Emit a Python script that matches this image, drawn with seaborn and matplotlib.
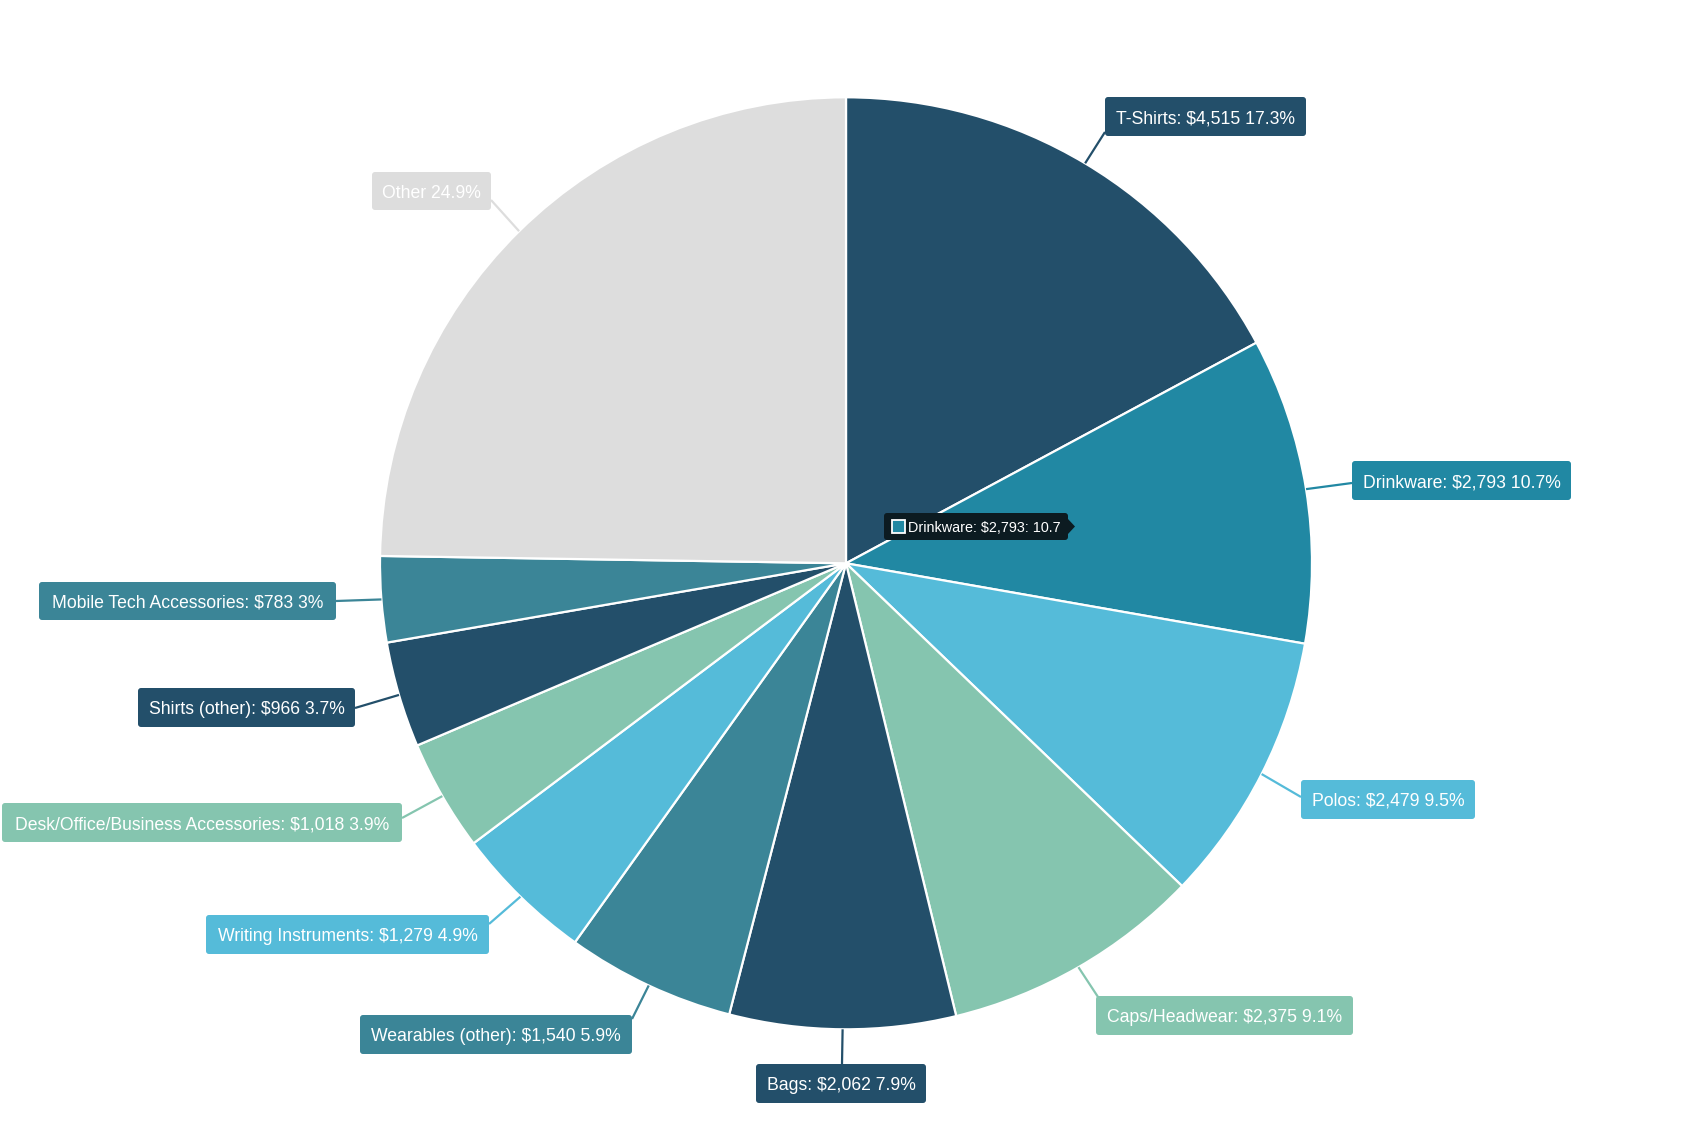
import matplotlib
matplotlib.use("Agg")
import matplotlib.pyplot as plt
from matplotlib.patches import FancyBboxPatch, Polygon
import numpy as np
import seaborn as sns

# Sales by product category
categories = ["T-Shirts", "Drinkware", "Polos", "Caps/Headwear", "Bags",
              "Wearables (other)", "Writing Instruments",
              "Desk/Office/Business Accessories", "Shirts (other)",
              "Mobile Tech Accessories", "Other"]
sales = [4515, 2793, 2479, 2375, 2062, 1540, 1279, 1018, 966, 783, 6515]
pct_labels = [17.3, 10.7, 9.5, 9.1, 7.9, 5.9, 4.9, 3.9, 3.7, 3, 24.9]
show_amount = [True] * 10 + [False]

NAVY, TEAL, SKY, MINT, SLATE, GREY = "#234f6a", "#2188a3", "#55bbd9", "#85c5af", "#3b8597", "#dddddd"
colors = [NAVY, TEAL, SKY, MINT, NAVY, SLATE, SKY, MINT, NAVY, SLATE, GREY]

sns.set_theme(style="white")
plt.rcParams["font.family"] = ["Liberation Sans", "DejaVu Sans"]

W, H = 1692, 1128
fig = plt.figure(figsize=(W / 100, H / 100), dpi=100)
ax = fig.add_axes([0, 0, 1, 1])

cx, cy = 846.0, H - 563.3
R = 466.0

ax.pie(sales, colors=colors, startangle=90, counterclock=False,
       center=(cx, cy), radius=R,
       wedgeprops=dict(edgecolor="white", linewidth=1.6))
ax.set_xlim(0, W)
ax.set_ylim(0, H)
ax.set_aspect("equal")
ax.axis("off")

# label boxes (left, top, right, bottom in pixel rows from top) and leader end points
boxes = [
    (1105, 97, 1306, 136), (1352, 461, 1571, 500), (1301, 780, 1475, 819),
    (1096, 996, 1353, 1035), (756, 1064, 926, 1103), (360, 1015, 632, 1054),
    (206, 915, 489, 954), (2, 803, 402, 842), (138, 688, 355, 727),
    (39, 582, 336, 620), (372, 172, 491, 210),
]
leader_ends = [
    (1105, 132), (1352, 483), (1301, 797), (1100, 1000), (842, 1064),
    (632, 1019), (489, 924), (402, 818), (355, 708), (336, 601), (491, 200),
]

total = float(np.sum(sales))
cum = np.cumsum([0] + sales)
for i, name in enumerate(categories):
    mid = (cum[i] + sales[i] / 2) / total * 2 * np.pi
    x0 = cx + R * np.sin(mid)
    y0 = cy + R * np.cos(mid)
    ex, ey = leader_ends[i]
    ax.plot([x0, ex], [y0, H - ey], color=colors[i], lw=1.6,
            solid_capstyle="butt", zorder=3)
    l, t, r, b = boxes[i]
    ax.add_patch(FancyBboxPatch((l + 3, H - b + 3), r - l - 6, b - t - 6,
                                boxstyle="round,pad=3", fc=colors[i],
                                ec="none", zorder=4))
    if show_amount[i]:
        txt = f"{name}: ${sales[i]:,} {pct_labels[i]:g}%"
    else:
        txt = f"{name} {pct_labels[i]:g}%"
    ax.text((l + r) / 2, H - (t + b) / 2, txt, color="white", fontsize=12.7,
            ha="center", va="center_baseline", zorder=5)

# hover tooltip for Drinkware
tl, tt, tr, tb = 884, 513, 1068, 540
ax.add_patch(FancyBboxPatch((tl + 3, H - tb + 3), tr - tl - 6, tb - tt - 6,
                            boxstyle="round,pad=3", fc="#0c1b21", ec="none",
                            zorder=6))
ax.add_patch(Polygon([(tr, H - 519), (tr + 7, H - 526.5), (tr, H - 534)],
                     closed=True, fc="#0c1b21", ec="none", zorder=6))
ax.add_patch(plt.Rectangle((892, H - 533), 13, 13, fc=TEAL, ec="white",
                           lw=1.3, zorder=7))
ax.text(908, H - 526.5, f"{categories[1]}: ${sales[1]:,}: {pct_labels[1]:g}",
        color="white", fontsize=10.4, ha="left", va="center_baseline", zorder=7)

fig.savefig("out.png", dpi=100, facecolor="white")
